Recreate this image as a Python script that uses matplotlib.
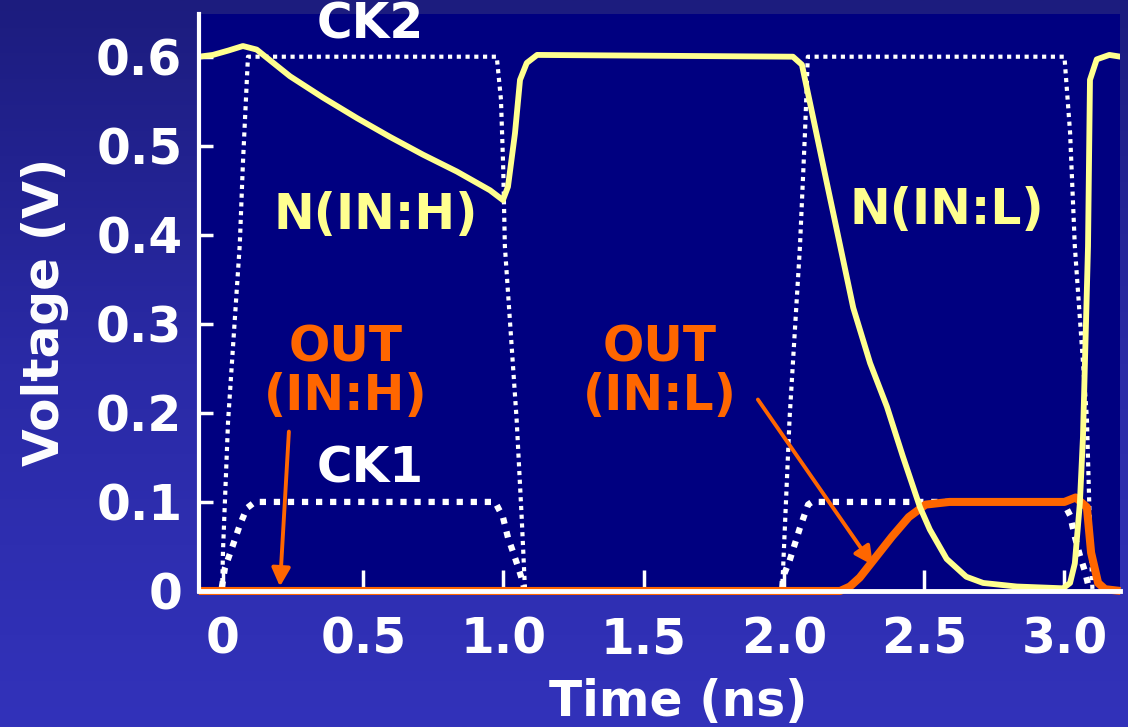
import numpy as np
import matplotlib
matplotlib.use("Agg")
import matplotlib.pyplot as plt
from matplotlib.colors import LinearSegmentedColormap

# ---- data (time in ns, voltage in V) ----
# CK2 clock, fine white dots
ck2_t = [-0.003, 0.0, 0.018, 0.06, 0.071, 0.089, 0.976, 0.991, 0.999, 1.005, 1.047, 1.065, 1.077,
         1.993, 1.997, 2.02, 2.057, 2.075, 2.085, 3.0, 3.02, 3.037, 3.08, 3.09, 3.1]
ck2_v = [0.0, 0.045, 0.19, 0.39, 0.48, 0.6, 0.6, 0.552, 0.476, 0.387, 0.192, 0.082, 0.0,
         0.0, 0.026, 0.194, 0.387, 0.515, 0.6, 0.6, 0.515, 0.387, 0.194, 0.08, 0.0]

# CK1 clock, coarse white dots
ck1_t = [-0.004, 0.007, 0.036, 0.06, 0.085, 0.114, 0.97, 0.998, 1.016, 1.035, 1.052, 1.07, 1.075,
         1.993, 1.997, 2.02, 2.057, 2.086, 2.1, 2.995, 3.02, 3.037, 3.055, 3.073, 3.09]
ck1_v = [0.004, 0.026, 0.052, 0.074, 0.093, 0.1, 0.1, 0.083, 0.06, 0.043, 0.027, 0.009, 0.0,
         0.0, 0.016, 0.034, 0.071, 0.097, 0.1, 0.1, 0.085, 0.061, 0.04, 0.022, 0.0]

# node N, pale yellow
n_t = [-0.086, -0.036, 0.02, 0.071, 0.12, 0.239, 0.357, 0.478, 0.595, 0.713, 0.834, 0.952,
       0.998, 1.016, 1.041, 1.059, 1.083, 1.12, 2.032, 2.064, 2.103, 2.153, 2.182, 2.247,
       2.307, 2.367, 2.424, 2.485, 2.52, 2.58, 2.65, 2.71, 2.83, 2.995, 3.02, 3.037, 3.055,
       3.066, 3.084, 3.091, 3.115, 3.16, 3.2]
n_v = [0.6, 0.602, 0.607, 0.612, 0.608, 0.578, 0.554, 0.531, 0.51, 0.49, 0.471, 0.45,
       0.439, 0.454, 0.514, 0.574, 0.593, 0.602, 0.6, 0.591, 0.533, 0.458, 0.415, 0.318,
       0.256, 0.207, 0.151, 0.094, 0.069, 0.036, 0.016, 0.009, 0.005, 0.003, 0.009, 0.031, 0.099,
       0.173, 0.387, 0.574, 0.597, 0.602, 0.6]

# output, orange
out_t = [-0.086, 2.2, 2.235, 2.27, 2.31, 2.385, 2.445, 2.505, 2.59, 3.0, 3.04, 3.08, 3.095,
         3.12, 3.145, 3.2]
out_v = [0.0, 0.0, 0.005, 0.015, 0.031, 0.061, 0.083, 0.097, 0.1, 0.1, 0.105, 0.094, 0.043,
         0.009, 0.002, 0.0]

x_ticks = [0, 0.5, 1.0, 1.5, 2.0, 2.5, 3.0]
x_tick_labels = ["0", "0.5", "1.0", "1.5", "2.0", "2.5", "3.0"]
y_ticks = [0, 0.1, 0.2, 0.3, 0.4, 0.5, 0.6]
y_tick_labels = ["0", "0.1", "0.2", "0.3", "0.4", "0.5", "0.6"]

# colours
NAVY = "#000080"
YELLOW = "#FFFF8F"
ORANGE = "#FF6600"
WHITE = "white"

plt.rcParams['font.family'] = ['DejaVu Sans']
plt.rcParams['font.weight'] = 'bold'

fig = plt.figure(figsize=(11.28, 7.27), dpi=100)

# slide-like blue gradient behind everything
bg = fig.add_axes([0, 0, 1, 1], zorder=-10)
grad_cmap = LinearSegmentedColormap.from_list("slide", ["#1c1c7e", "#2a2aa6", "#3232ba"])
bg.imshow(np.linspace(0, 1, 256).reshape(-1, 1), cmap=grad_cmap, aspect='auto', extent=[0, 1, 0, 1])
bg.axis('off')

ax = fig.add_axes([0.1764, 0.1871, 0.8165, 0.7937])
ax.set_facecolor(NAVY)
ax.set_xlim(-0.0856, 3.198)
ax.set_ylim(0, 0.648)

# clocks first, then output, then node N on top
ax.plot(ck2_t, ck2_v, color=WHITE, lw=3.0, linestyle=(0, (1, 1.1)), zorder=1.5)
ax.plot(ck1_t, ck1_v, color=WHITE, lw=4.5, linestyle=(0, (1, 1.25)), zorder=1.6)
ax.plot(out_t, out_v, color=ORANGE, lw=5.8, solid_capstyle='butt', solid_joinstyle='round',
        clip_on=False, zorder=2)
ax.plot(n_t, n_v, color=YELLOW, lw=4.2, solid_joinstyle='round', zorder=2.2)

# spines / ticks
for side in ['top', 'right']:
    ax.spines[side].set_visible(False)
ax.spines['left'].set_color(WHITE)
ax.spines['left'].set_linewidth(3)
ax.spines['bottom'].set_color(WHITE)
ax.spines['bottom'].set_linewidth(3.5)
ax.spines['bottom'].set_zorder(3)

ax.set_xticks(x_ticks)
ax.set_xticklabels(x_tick_labels)
ax.set_yticks(y_ticks)
ax.set_yticklabels(y_tick_labels)
ax.tick_params(axis='x', direction='in', length=15, width=2.5, color=WHITE, labelcolor=WHITE,
               labelsize=35, pad=18)
ax.tick_params(axis='y', direction='in', length=10, width=2.5, color=WHITE, labelcolor=WHITE,
               labelsize=35, pad=12)
for lab in ax.get_xticklabels() + ax.get_yticklabels():
    lab.set_fontweight('bold')

fig.text(45 / 1128, 1 - 312 / 727, "Voltage (V)", rotation=90, ha='center', va='center',
         color=WHITE, fontsize=35, fontweight='bold')
fig.text(678 / 1128, 1 - 716 / 727, "Time (ns)", ha='center', va='baseline',
         color=WHITE, fontsize=35, fontweight='bold')

# curve labels
ax.text(0.524, 0.636, "CK2", color=WHITE, fontsize=35, fontweight='bold', ha='center', va='center')
ax.text(0.524, 0.138, "CK1", color=WHITE, fontsize=35, fontweight='bold', ha='center', va='center')
ax.text(0.545, 0.422, "N(IN:H)", color=YELLOW, fontsize=35, fontweight='bold', ha='center', va='center')
ax.text(2.581, 0.428, "N(IN:L)", color=YELLOW, fontsize=35, fontweight='bold', ha='center', va='center')
ax.text(0.439, 0.246, "OUT\n(IN:H)", color=ORANGE, fontsize=35, fontweight='bold', ha='center',
        va='center', linespacing=1.0, multialignment='center')
ax.text(1.558, 0.246, "OUT\n(IN:L)", color=ORANGE, fontsize=35, fontweight='bold', ha='center',
        va='center', linespacing=1.0, multialignment='center')

arrow = dict(arrowstyle='-|>,head_length=0.55,head_width=0.28', color=ORANGE, lw=2.8,
             mutation_scale=20, shrinkA=0, shrinkB=0)
ax.annotate('', xy=(0.203, 0.005), xytext=(0.235, 0.179), arrowprops=arrow, zorder=4)
ax.annotate('', xy=(2.317, 0.029), xytext=(1.907, 0.215), arrowprops=arrow, zorder=4)

fig.savefig("out.png", dpi=100)
